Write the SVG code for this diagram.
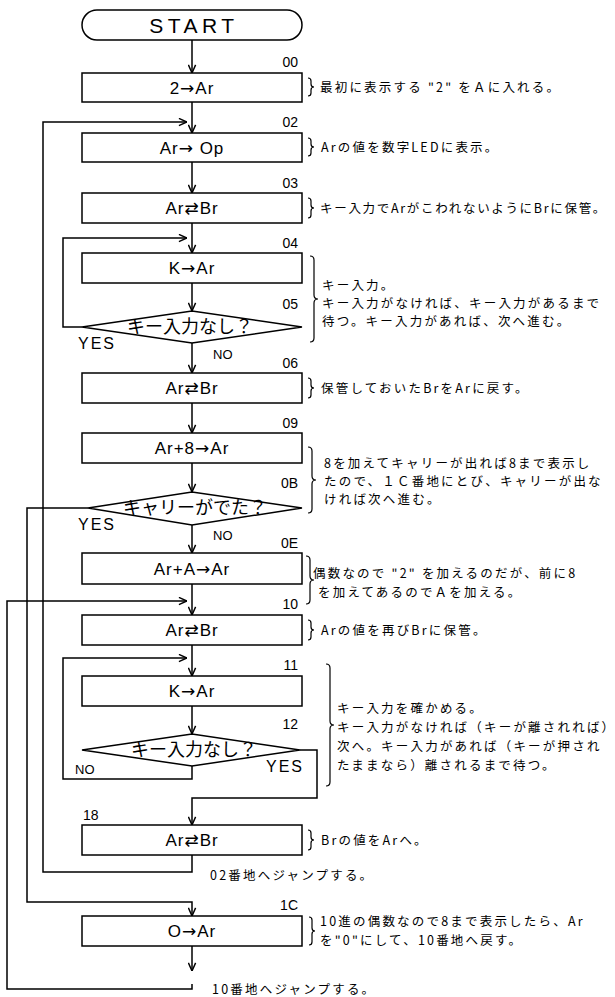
<svg xmlns="http://www.w3.org/2000/svg" width="615" height="997" viewBox="0 0 615 997">
<style>
.box{fill:#fff;stroke:#000;stroke-width:1.5}
.ln{fill:none;stroke:#000;stroke-width:1.5}
.br{fill:none;stroke:#000;stroke-width:1.2}
.bt{font-family:"Liberation Sans","DejaVu Sans",sans-serif;font-size:17px;letter-spacing:1px;text-anchor:middle;fill:#000}
.st{font-family:"Liberation Sans","DejaVu Sans",sans-serif;font-size:21px;letter-spacing:4.5px;text-anchor:middle;fill:#000}
.ar{font-family:"DejaVu Sans",sans-serif}
.lab{font-family:"Liberation Sans","DejaVu Sans",sans-serif;font-size:14px;fill:#000}
.cm{font-family:"Noto Sans CJK JP",sans-serif;font-size:12.5px;letter-spacing:2.2px;fill:#000}
.dt{font-family:"Noto Sans CJK JP",sans-serif;font-size:18px;text-anchor:middle;fill:#000}
.yn{font-family:"Liberation Sans","DejaVu Sans",sans-serif;fill:#000}
</style>
<defs>
<marker id="ah" viewBox="0 0 10 10" refX="10" refY="5" markerWidth="9" markerHeight="9" markerUnits="userSpaceOnUse" orient="auto">
<path d="M1,1 L10,5 L1,9" fill="none" stroke="#000" stroke-width="1.6"/>
</marker>
</defs>
<rect width="615" height="997" fill="#fff"/>

<g id="connectors">
<path class="ln" d="M192,40 V73" marker-end="url(#ah)"/>
<path class="ln" d="M192,102 V133" marker-end="url(#ah)"/>
<path class="ln" d="M192,855 V872 H43 V122 H187" marker-end="url(#ah)"/>
<path class="ln" d="M192,162 V193" marker-end="url(#ah)"/>
<path class="ln" d="M192,223 V253" marker-end="url(#ah)"/>
<path class="ln" d="M82,327 H63 V238 H187" marker-end="url(#ah)"/>
<path class="ln" d="M192,283 V311" marker-end="url(#ah)"/>
<path class="ln" d="M192,343 V373" marker-end="url(#ah)"/>
<path class="ln" d="M192,403 V433" marker-end="url(#ah)"/>
<path class="ln" d="M192,463 V492" marker-end="url(#ah)"/>
<path class="ln" d="M192,525 V553" marker-end="url(#ah)"/>
<path class="ln" d="M88,508 H27 V902 H192 V916" marker-end="url(#ah)"/>
<path class="ln" d="M192,584 V615" marker-end="url(#ah)"/>
<path class="ln" d="M192,984 V989 H7 V601 H187" marker-end="url(#ah)"/>
<path class="ln" d="M192,645 V676" marker-end="url(#ah)"/>
<path class="ln" d="M192,766 V779 H63 V658 H187" marker-end="url(#ah)"/>
<path class="ln" d="M192,706 V734" marker-end="url(#ah)"/>
<path class="ln" d="M300,750 H317 V798 H192 V825" marker-end="url(#ah)"/>
<path class="ln" d="M192,946 V971" marker-end="url(#ah)"/>
<text class="yn" x="78" y="349" font-size="16" letter-spacing="2">YES</text>
<text class="yn" x="213" y="359" font-size="13">NO</text>
<text class="yn" x="78" y="530" font-size="16" letter-spacing="2">YES</text>
<text class="yn" x="213" y="540" font-size="13">NO</text>
<text class="yn" x="75" y="774" font-size="13">NO</text>
<text class="yn" x="266" y="772" font-size="16" letter-spacing="2">YES</text>
</g>

<g id="n_start">
<rect class="box" x="82" y="10" width="220" height="30" rx="15" ry="15"/>
<text class="st" x="194" y="33">START</text>
</g>

<g id="n00">
<rect class="box" x="82" y="73" width="220" height="29"/>
<text class="bt" x="192" y="94">2<tspan class="ar">→</tspan>Ar</text>
<text class="lab" x="298" y="67" text-anchor="end">00</text>
<path class="br" d="M308,78 q3,0 3,3 v3 q0,3 3,3 q-3,0 -3,3 v3 q0,3 -3,3"/>
<text class="cm" x="320" y="92">最初に表示する "2" をＡに入れる。</text>
</g>

<g id="n02">
<rect class="box" x="82" y="133" width="220" height="29"/>
<text class="bt" x="192" y="154">Ar<tspan class="ar">→</tspan> Op</text>
<text class="lab" x="298" y="127" text-anchor="end">02</text>
<path class="br" d="M308,138 q3,0 3,3 v3 q0,3 3,3 q-3,0 -3,3 v3 q0,3 -3,3"/>
<text class="cm" x="321" y="152">Arの値を数字LEDに表示。</text>
</g>

<g id="n03">
<rect class="box" x="82" y="193" width="220" height="30"/>
<text class="bt" x="192" y="214">Ar<tspan class="ar">⇄</tspan>Br</text>
<text class="lab" x="298" y="188" text-anchor="end">03</text>
<path class="br" d="M308,198 q3,0 3,3 v4 q0,3 3,3 q-3,0 -3,3 v4 q0,3 -3,3"/>
<text class="cm" x="320" y="213" style="letter-spacing:1.7px">キー入力でArがこわれないようにBrに保管。</text>
</g>

<g id="n04">
<rect class="box" x="82" y="253" width="220" height="30"/>
<text class="bt" x="192" y="274">K<tspan class="ar">→</tspan>Ar</text>
<text class="lab" x="298" y="248" text-anchor="end">04</text>
</g>

<g id="n05">
<polygon class="box" points="82,327 192,311 302,327 192,343"/>
<text class="dt" x="190" y="333">キー入力なし？</text>
<text class="lab" x="298" y="309" text-anchor="end">05</text>
<path class="br" d="M310,256 q4,0 4,4 v35 q0,4 4,4 q-4,0 -4,4 v35 q0,4 -4,4"/>
<text class="cm" x="322" y="290">キー入力。</text>
<text class="cm" x="322" y="308">キー入力がなければ、キー入力があるまで</text>
<text class="cm" x="322" y="326">待つ。キー入力があれば、次へ進む。</text>
</g>

<g id="n06">
<rect class="box" x="82" y="373" width="220" height="30"/>
<text class="bt" x="192" y="394">Ar<tspan class="ar">⇄</tspan>Br</text>
<text class="lab" x="298" y="368" text-anchor="end">06</text>
<path class="br" d="M308,378 q3,0 3,3 v4 q0,3 3,3 q-3,0 -3,3 v4 q0,3 -3,3"/>
<text class="cm" x="321" y="393">保管しておいたBrをArに戻す。</text>
</g>

<g id="n09">
<rect class="box" x="82" y="433" width="220" height="30"/>
<text class="bt" x="192" y="454">Ar+8<tspan class="ar">→</tspan>Ar</text>
<text class="lab" x="298" y="428" text-anchor="end">09</text>
</g>

<g id="n0B">
<polygon class="box" points="88,508 192,492 302,508 192,525"/>
<text class="dt" x="195" y="514">キャリーがでた？</text>
<text class="lab" x="298" y="488" text-anchor="end">0B</text>
<path class="br" d="M308,447 q4,0 4,4 v25 q0,4 4,4 q-4,0 -4,4 v25 q0,4 -4,4"/>
<text class="cm" x="324" y="468">8を加えてキャリーが出れば8まで表示し</text>
<text class="cm" x="324" y="486">たので、１Ｃ番地にとび、キャリーが出な</text>
<text class="cm" x="324" y="504">ければ次へ進む。</text>
</g>

<g id="n0E">
<rect class="box" x="82" y="553" width="220" height="31"/>
<text class="bt" x="192" y="575">Ar+A<tspan class="ar">→</tspan>Ar</text>
<text class="lab" x="298" y="548" text-anchor="end">0E</text>
<path class="br" d="M306,556 q4,0 4,4 v16 q0,4 4,4 q-4,0 -4,4 v16 q0,4 -4,4"/>
<text class="cm" x="313" y="578">偶数なので "2" を加えるのだが、前に8</text>
<text class="cm" x="318" y="597">を加えてあるのでＡを加える。</text>
</g>

<g id="n10">
<rect class="box" x="82" y="615" width="220" height="30"/>
<text class="bt" x="192" y="636">Ar<tspan class="ar">⇄</tspan>Br</text>
<text class="lab" x="298" y="609" text-anchor="end">10</text>
<path class="br" d="M308,620 q3,0 3,3 v4 q0,3 3,3 q-3,0 -3,3 v4 q0,3 -3,3"/>
<text class="cm" x="321" y="635">Arの値を再びBrに保管。</text>
</g>

<g id="n11">
<rect class="box" x="82" y="676" width="220" height="30"/>
<text class="bt" x="192" y="697">K<tspan class="ar">→</tspan>Ar</text>
<text class="lab" x="298" y="670" text-anchor="end">11</text>
</g>

<g id="n12">
<polygon class="box" points="82,750 192,734 300,750 192,766"/>
<text class="dt" x="194" y="756">キー入力なし？</text>
<text class="lab" x="298" y="729" text-anchor="end">12</text>
<path class="br" d="M326,664 q4,0 4,4 v53 q0,4 4,4 q-4,0 -4,4 v53 q0,4 -4,4"/>
<text class="cm" x="337" y="713">キー入力を確かめる。</text>
<text class="cm" x="337" y="732">キー入力がなければ（キーが離されれば）</text>
<text class="cm" x="337" y="751">次へ。キー入力があれば（キーが押され</text>
<text class="cm" x="337" y="770">たままなら）離されるまで待つ。</text>
</g>

<g id="n18">
<rect class="box" x="82" y="825" width="220" height="30"/>
<text class="bt" x="192" y="846">Ar<tspan class="ar">⇄</tspan>Br</text>
<text class="lab" x="83" y="820">18</text>
<path class="br" d="M308,830 q3,0 3,3 v4 q0,3 3,3 q-3,0 -3,3 v4 q0,3 -3,3"/>
<text class="cm" x="321" y="845">Brの値をArへ。</text>
<text class="cm" x="210" y="880">02番地へジャンプする。</text>
</g>

<g id="n1C">
<rect class="box" x="82" y="916" width="220" height="30"/>
<text class="bt" x="192" y="937">O<tspan class="ar">→</tspan>Ar</text>
<text class="lab" x="298" y="910" text-anchor="end">1C</text>
<path class="br" d="M309,917 q3,0 3,3 v8 q0,3 3,3 q-3,0 -3,3 v8 q0,3 -3,3"/>
<text class="cm" x="320" y="926">10進の偶数なので8まで表示したら、Ar</text>
<text class="cm" x="320" y="945">を"0"にして、10番地へ戻す。</text>
<text class="cm" x="212" y="994">10番地へジャンプする。</text>
</g>
</svg>
